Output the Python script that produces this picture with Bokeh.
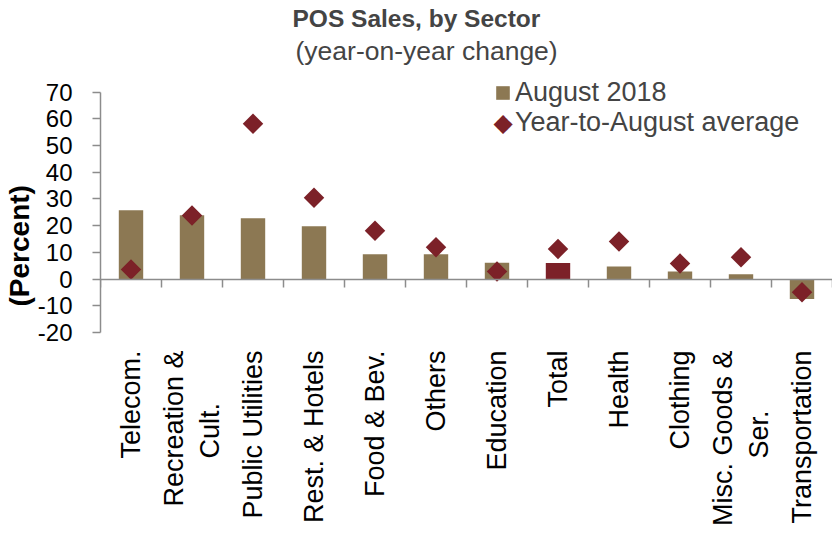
import numpy as np
from bokeh.plotting import figure
from bokeh.models import (Range1d, LinearAxis, FixedTicker, Legend, LegendItem,
                          Label, Title, ColumnDataSource)
from bokeh.embed import file_html
from bokeh.resources import INLINE

NBSP = "\u00a0"
categories = ["Telecom.", "Recreation &\nCult." + NBSP * 7, "Public Utilities",
              "Rest. & Hotels", "Food & Bev.", "Others", "Education", "Total", "Health",
              "Clothing", "Misc. Goods &\nSer." + NBSP * 8, "Transportation"]
august_2018 = [25.8, 23.9, 22.8, 19.8, 9.3, 9.3, 6.1, 6.0, 4.7, 2.8, 1.8, -7.5]
ytd_average = [3.6, 23.8, 58.2, 30.5, 18.1, 11.9, 2.8, 11.3, 14.1, 5.8, 8.2, -4.9]
y_ticks = [-20, -10, 0, 10, 20, 30, 40, 50, 60, 70]
highlight = "Total"

BAR = "#8C7853"
RED = "#7C2128"
AXIS = "#8C8C8C"
FONT = "Liberation Sans"

n = len(categories)
xs = list(range(n))
colors = [RED if c == highlight else BAR for c in categories]
src = ColumnDataSource(dict(x=xs, bar=august_2018, avg=ytd_average, color=colors))

p = figure(width=832, height=536, x_range=Range1d(-0.5, n - 0.5),
           y_range=Range1d(y_ticks[0], 77), output_backend="svg",
           toolbar_location=None, title=None,
           min_border_left=98, min_border_right=0, min_border_top=73,
           min_border_bottom=204)
p.outline_line_color = None
p.xgrid.visible = False
p.ygrid.visible = False

bars = p.vbar(x="x", top="bar", width=0.4, fill_color="color", line_color=None, source=src)
dots = p.scatter(x="x", y="avg", marker="square", size=14.5, angle=np.pi / 4,
                 fill_color=RED, line_color=None, source=src)

# y axis
ya = p.yaxis[0]
ya.ticker = FixedTicker(ticks=y_ticks)
ya.major_label_overrides = {t: str(t) for t in y_ticks}
ya.bounds = (y_ticks[0], y_ticks[-1])
ya.axis_line_color = AXIS
ya.axis_line_width = 1.5
ya.major_tick_line_color = AXIS
ya.major_tick_line_width = 1.5
ya.major_tick_in = 0
ya.major_tick_out = 8
ya.minor_tick_line_color = None
ya.major_label_text_font = FONT
ya.major_label_text_font_size = "24px"
ya.major_label_text_color = "black"
ya.major_label_standoff = 20

# axis that only carries the "(Percent)" title (padded so it sits lower, as in the original)
ylab = LinearAxis(ticker=FixedTicker(ticks=[]), axis_label="(Percent)" + NBSP * 11)
ylab.axis_line_color = None
ylab.major_tick_line_color = None
ylab.minor_tick_line_color = None
ylab.major_tick_out = 0
ylab.major_label_standoff = 0
ylab.major_label_text_font_size = "0px"
ylab.axis_label_standoff = 0
ylab.axis_label_text_font = FONT
ylab.axis_label_text_font_style = "bold"
ylab.axis_label_text_font_size = "28px"
ylab.axis_label_text_color = "black"
p.add_layout(ylab, "left")

# category labels below
xa = p.xaxis[0]
xa.ticker = FixedTicker(ticks=xs)
xa.major_label_overrides = {i: c for i, c in enumerate(categories)}
xa.major_label_orientation = np.pi / 2
xa.axis_line_color = None
xa.major_tick_line_color = None
xa.minor_tick_line_color = None
xa.major_label_text_font = FONT
xa.major_label_text_font_size = "27px"
xa.major_label_text_color = "black"
xa.major_label_standoff = 12

# zero line with ticks between categories
bounds_ticks = [i - 0.5 for i in range(n + 1)]
za = LinearAxis(fixed_location=0, ticker=FixedTicker(ticks=bounds_ticks))
za.axis_line_color = AXIS
za.axis_line_width = 1.5
za.major_tick_line_color = AXIS
za.major_tick_line_width = 1.5
za.major_tick_in = 0
za.major_tick_out = 8
za.minor_tick_line_color = None
za.major_label_text_font_size = "0px"
za.major_label_text_color = None
p.add_layout(za, "below")

# titles
p.add_layout(Title(text="(year-on-year change)", align="left", offset=195,
                   text_font=FONT, text_font_size="26.5px", text_font_style="normal",
                   standoff=15), "above")
p.add_layout(Title(text="POS Sales, by Sector", align="left", offset=192,
                   text_font=FONT, text_font_size="24.5px", text_font_style="bold",
                   standoff=-10), "above")

# legends
ghost = p.scatter(x=[], y=[], marker="square", fill_alpha=0, line_alpha=0)
leg1 = Legend(items=[LegendItem(label="August 2018", renderers=[bars])],
              location=(394, 224), glyph_width=17, glyph_height=17, label_height=32,
              label_standoff=4, padding=0, margin=0, border_line_color=None,
              background_fill_alpha=0, label_text_font=FONT,
              label_text_font_size="27px")
leg2 = Legend(items=[LegendItem(label="Year-to-August average", renderers=[ghost])],
              location=(394, 194), glyph_width=17, glyph_height=17, label_height=32,
              label_standoff=4, padding=0, margin=0, border_line_color=None,
              background_fill_alpha=0, label_text_font=FONT,
              label_text_font_size="27px")
p.add_layout(leg1)
p.add_layout(leg2)
p.add_layout(Label(x=402.5, y=210, x_units="screen", y_units="screen", text="◆",
                   text_color=RED, text_font="DejaVu Sans", text_font_size="25px",
                   text_align="center", text_baseline="middle"))

open("out.html", "w").write(file_html(p, INLINE))
